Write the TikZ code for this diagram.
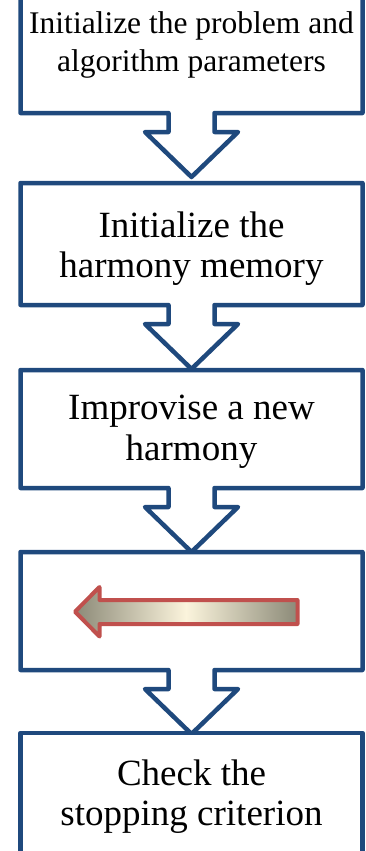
\documentclass[tikz,border=0pt]{standalone}
\usepackage{fontspec}
\setmainfont{Liberation Serif}
\definecolor{calloutblue}{HTML}{1F497D}
\definecolor{arrowred}{HTML}{C0504D}
\definecolor{arrowend}{HTML}{8C8A78}
\definecolor{arrowmid}{HTML}{FBF4DC}
% Rectangle with a hollow down-arrow hanging from its bottom edge.
% #1 = top edge, #2 = bottom edge (picture units, y grows downwards)
\newcommand\downcallout[2]{%
  \draw[callout]
    (20.5,#1) -- (362.5,#1) -- (362.5,#2)
    -- (214.5,#2) -- (214.5,{#2+19}) -- (238,{#2+19})
    -- (191.5,{#2+64}) -- (145,{#2+19}) -- (168.5,{#2+19})
    -- (168.5,#2) -- (20.5,#2) -- cycle;}
\begin{document}
\begin{tikzpicture}[x=1pt,y=-1pt,
  callout/.style={draw=calloutblue,line width=4.5pt,line join=round,fill=white},
  biglabel/.style={anchor=base,inner sep=0pt,font=\fontsize{37}{40}\selectfont},
  smalllabel/.style={anchor=base,inner sep=0pt,font=\fontsize{31.5}{38}\selectfont}]
\useasboundingbox (0,0) rectangle (366,851);
\clip (0,0) rectangle (366,851);

% stacked process steps
\downcallout{-9}{113}
\downcallout{183}{305}
\downcallout{370}{488}
\downcallout{552}{670}
\draw[callout] (20.5,733) rectangle (362.5,870);

% step texts
\node[smalllabel] (s1a) at (191.5,33.3) {Initialize the problem and};
\node[smalllabel] (s1b) at (191.5,71.7) {algorithm parameters};
\node[biglabel] (s2a) at (191.5,237) {Initialize the};
\node[biglabel] (s2b) at (191.5,277) {harmony memory};
\node[biglabel] (s3a) at (191.5,419) {Improvise a new};
\node[biglabel] (s3b) at (191.5,460) {harmony};
\node[biglabel] (s5a) at (191.5,785) {Check the};
\node[biglabel] (s5b) at (191.5,825) {stopping criterion};

% shaded left-pointing block arrow in the fourth step
\draw[draw=arrowred,line width=4pt,line join=round,
      left color=arrowend,right color=arrowend,middle color=arrowmid]
  (75,611.7) -- (99.5,587) -- (99.5,600) -- (297.5,600)
  -- (297.5,624) -- (99.5,624) -- (99.5,636.5) -- cycle;
\end{tikzpicture}
\end{document}
